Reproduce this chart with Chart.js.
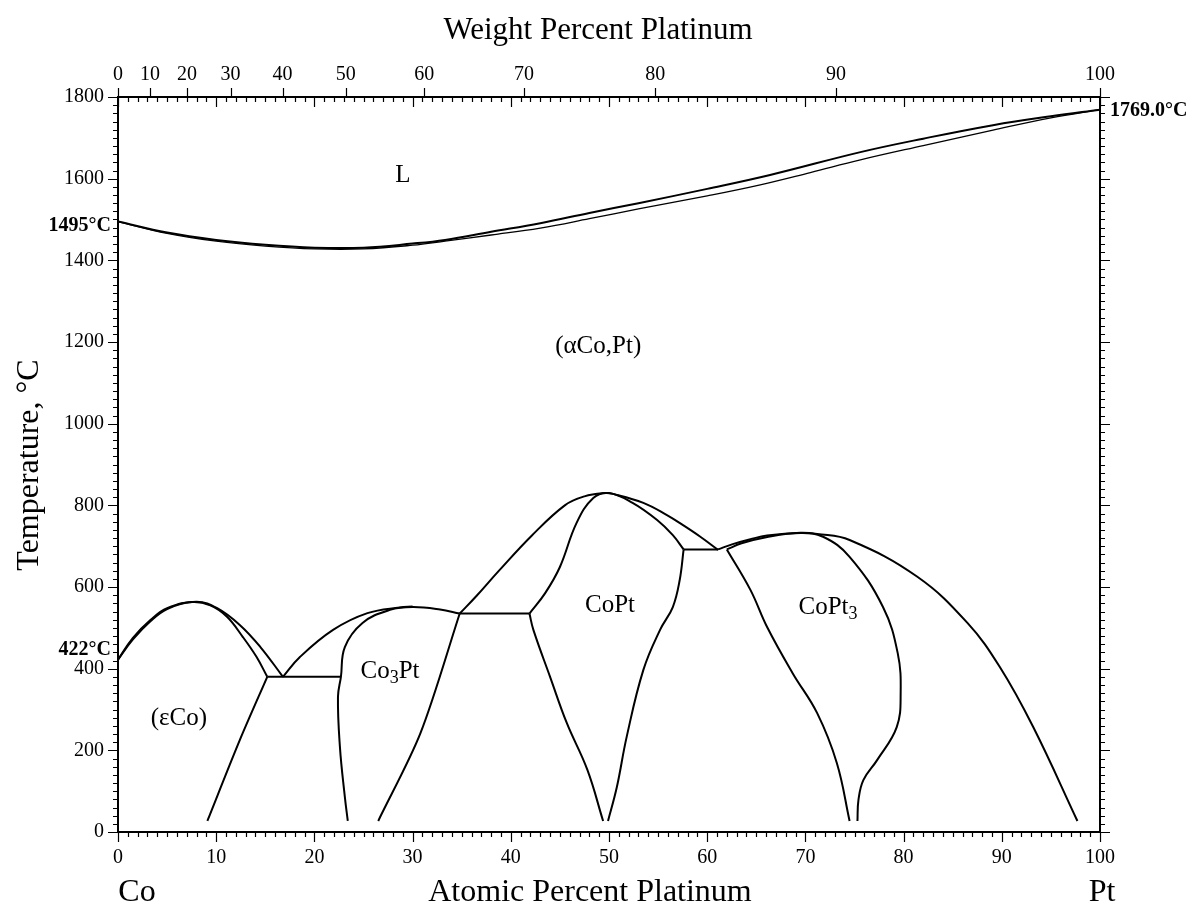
<!DOCTYPE html>
<html>
<head>
<meta charset="utf-8">
<script src="https://cdn.jsdelivr.net/npm/chart.js@4.4.1/dist/chart.umd.min.js"></script>
<style>
  html, body { margin: 0; padding: 0; background: #fff; }
  #wrap { width: 1195px; height: 910px; position: relative; }
</style>
</head>
<body>
<div id="wrap"><canvas id="phaseChart"></canvas></div>
<script>
// Co-Pt phase diagram, x = at.% Pt, y = temperature in degC

// liquidus / solidus
const liqX = [0, 5, 10, 15, 20, 25, 30, 33.3, 38, 43, 48, 53, 60, 66.4, 75.6, 82, 89.1, 95, 100];
const liqT = [1495, 1468, 1450, 1438, 1431, 1431, 1441, 1450, 1470, 1491, 1516, 1540, 1575, 1609, 1665, 1698, 1731, 1753, 1769];
const solX = [0, 5, 10, 15, 20, 25, 30, 33.3, 38, 43, 48, 53, 60, 65.4, 70.5, 75.6, 82, 89.1, 95, 100];
const solT = [1495, 1466, 1447, 1435, 1428, 1428, 1437, 1447, 1462, 1479, 1502, 1526, 1558, 1585, 1615, 1646, 1681, 1719, 1749, 1769];

// (eCo) / (aCo) transition
const epsInX = [0, 1.5, 3.3, 5, 7.5, 9.4, 11.1, 12.7, 14.1, 15.2];
const epsInT = [422, 471, 516, 546, 563, 555, 527, 478, 429, 380];
const epsOutX = [0, 1.5, 3.3, 5, 8, 10.1, 12.4, 14.5, 16.8];
const epsOutT = [422, 475, 519, 548, 564, 548, 507, 453, 380];
const epsSolvX = [15.2, 12.4, 9.1];
const epsSolvT = [380, 225, 27];
const eut380X = [15.2, 22.7];
const eut380T = [380, 380];

// Co3Pt
const co3OutX = [16.8, 18.5, 21.9, 25.4, 28.7, 30];
const co3OutT = [380, 428, 495, 536, 550, 552];
const co3InX = [23.4, 23.1, 22.6, 22.4, 22.7, 23.1, 24.9, 27.7, 30, 32.8, 34.8];
const co3InT = [27, 86, 208, 331, 380, 453, 512, 544, 551, 545, 535];
const co3RightX = [34.8, 30.8, 26.5];
const co3RightT = [535, 242, 27];
const line535X = [34.8, 41.9];
const line535T = [535, 535];

// CoPt
const coptOutX = [34.8, 36.5, 38.8, 42.1, 45.5, 47.5, 49.6, 50.4, 53.5, 55.9, 57.5, 59.3, 61.1];
const coptOutT = [535, 578, 640, 725, 800, 822, 830, 828, 806, 776, 752, 723, 691];
const coptInX = [41.9, 43.5, 45.0, 46.7, 48.4, 50.0, 52.4, 54.9, 56.5, 57.6];
const coptInT = [535, 585, 649, 757, 818, 830, 806, 764, 727, 692];
const coptLeftX = [41.9, 42.3, 44.0, 45.7, 47.8, 49.4];
const coptLeftT = [535, 495, 380, 267, 152, 27];
const coptRightX = [57.6, 57.2, 56.5, 55.2, 53.5, 51.8, 50.8, 49.9];
const coptRightT = [692, 617, 551, 495, 397, 233, 110, 27];
const line692X = [57.6, 61.1];
const line692T = [692, 692];

// CoPt3
const copt3OutX = [61.1, 62.6, 64.4, 66.1, 69.5, 71.2, 74.5, 81.4, 86.5, 89.8, 93.2, 97.7];
const copt3OutT = [692, 705, 717, 726, 733, 730, 715, 625, 512, 404, 257, 27];
const copt3InX = [62.0, 63.5, 66.0, 69.5, 71.8, 74.5, 77.9, 79.4, 79.7, 79.3, 77.3, 75.9, 75.4, 75.3];
const copt3InT = [692, 707, 722, 732, 723, 674, 551, 438, 340, 257, 176, 127, 78, 27];
const copt3LeftX = [62.0, 64.4, 66.1, 68.7, 71.2, 73.2, 74.5];
const copt3LeftT = [692, 593, 502, 389, 291, 169, 27];

// axis ticks
const weightTicks = [0, 10, 20, 30, 40, 50, 60, 70, 80, 90, 100];

// region labels
const regionNames = ['L', '(\u03b1Co,Pt)', '(\u03b5Co)', 'Co_3Pt', 'CoPt', 'CoPt_3'];
const regionX = [29.0, 48.9, 6.2, 27.7, 50.1, 72.3];
const regionT = [1609, 1188, 279, 394, 556, 551];

const M_PT = 195.08, M_CO = 58.933;
const wtToAt = w => {
  if (w <= 0) return 0;
  if (w >= 100) return 100;
  const a = w / M_PT, b = (100 - w) / M_CO;
  return 100 * a / (a + b);
};

const SERIF = '"Liberation Serif", "Times New Roman", serif';
Chart.defaults.font.family = SERIF;
Chart.defaults.color = '#000';

const curve = (xs, ts, width, tension) => ({
  data: xs.map((x, i) => ({ x: x, y: ts[i] })),
  showLine: true,
  borderColor: '#000',
  borderWidth: width,
  pointRadius: 0,
  tension: tension,
  fill: false,
});

// draw text with "_" marking a subscript char
function drawChem(ctx, label, cx, cy, size) {
  const parts = [];
  for (let i = 0; i < label.length; i++) {
    if (label[i] === '_') { parts.push({ t: label[i + 1], sub: true }); i++; }
    else if (parts.length && !parts[parts.length - 1].sub) parts[parts.length - 1].t += label[i];
    else parts.push({ t: label[i], sub: false });
  }
  const subSize = Math.round(size * 0.72);
  let total = 0;
  parts.forEach(p => {
    ctx.font = (p.sub ? subSize : size) + 'px ' + SERIF;
    p.w = ctx.measureText(p.t).width;
    total += p.w;
  });
  let x = cx - total / 2;
  ctx.textAlign = 'left';
  ctx.textBaseline = 'middle';
  parts.forEach(p => {
    ctx.font = (p.sub ? subSize : size) + 'px ' + SERIF;
    ctx.fillText(p.t, x, p.sub ? cy + size * 0.3 : cy);
    x += p.w;
  });
}

const frameAndText = {
  id: 'frameAndText',
  afterDraw(chart) {
    const { ctx, chartArea: a, scales } = chart;
    const sx = scales.x, sy = scales.y, st = scales.xTop;
    ctx.save();
    ctx.strokeStyle = '#000';
    ctx.lineWidth = 1.2;
    ctx.beginPath();
    sx.ticks.forEach(t => {
      const px = Math.round(sx.getPixelForValue(t.value)) + 0.5;
      const len = t.value % 10 === 0 ? 10 : 5;
      ctx.moveTo(px, a.bottom); ctx.lineTo(px, a.bottom + len);
      ctx.moveTo(px, a.top); ctx.lineTo(px, a.top + len);
    });
    st.ticks.forEach(t => {
      const px = Math.round(st.getPixelForValue(t.value)) + 0.5;
      ctx.moveTo(px, a.top); ctx.lineTo(px, a.top - 9);
    });
    sy.ticks.forEach(t => {
      const py = Math.round(sy.getPixelForValue(t.value)) + 0.5;
      const len = t.value % 200 === 0 ? 10 : 5;
      ctx.moveTo(a.left, py); ctx.lineTo(a.left - len, py);
      ctx.moveTo(a.right, py); ctx.lineTo(a.right + len, py);
    });
    ctx.stroke();

    ctx.fillStyle = '#000';
    // axis titles
    ctx.textAlign = 'center';
    ctx.textBaseline = 'middle';
    ctx.font = '31px ' + SERIF;
    ctx.fillText('Weight Percent Platinum', 598, 31);
    ctx.font = '32px ' + SERIF;
    ctx.fillText('Atomic Percent Platinum', 590, 893);
    ctx.fillText('Co', 137, 893);
    ctx.fillText('Pt', 1102, 893);
    ctx.save();
    ctx.translate(30, 465);
    ctx.rotate(-Math.PI / 2);
    ctx.font = '32px ' + SERIF;
    ctx.fillText('Temperature, \u00b0C', 0, 0);
    ctx.restore();

    // melting / transition points
    ctx.font = 'bold 20px ' + SERIF;
    ctx.textAlign = 'right';
    ctx.fillText('1495\u00b0C', 111, sy.getPixelForValue(1495) + 4);
    ctx.fillText('422\u00b0C', 111, sy.getPixelForValue(422) - 10);
    ctx.textAlign = 'left';
    ctx.fillText('1769.0\u00b0C', 1110, sy.getPixelForValue(1769) + 1);

    // phase field labels
    regionNames.forEach((n, i) => {
      drawChem(ctx, n, sx.getPixelForValue(regionX[i]), sy.getPixelForValue(regionT[i]), 25);
    });
    ctx.restore();
  }
};

const tickFont = { size: 20, family: SERIF };

new Chart(document.getElementById('phaseChart'), {
  type: 'scatter',
  data: {
    datasets: [
      curve(liqX, liqT, 2, 0.4),
      curve(solX, solT, 1.3, 0.4),
      curve(epsInX, epsInT, 2, 0.4),
      curve(epsOutX, epsOutT, 2, 0.4),
      curve(epsSolvX, epsSolvT, 2, 0.3),
      curve(eut380X, eut380T, 2, 0),
      curve(co3OutX, co3OutT, 2, 0.4),
      curve(co3InX, co3InT, 2, 0.4),
      curve(co3RightX, co3RightT, 2, 0.3),
      curve(line535X, line535T, 2, 0),
      curve(coptOutX, coptOutT, 2, 0.4),
      curve(coptInX, coptInT, 2, 0.4),
      curve(coptLeftX, coptLeftT, 2, 0.4),
      curve(coptRightX, coptRightT, 2, 0.4),
      curve(line692X, line692T, 2, 0),
      curve(copt3OutX, copt3OutT, 2, 0.4),
      curve(copt3InX, copt3InT, 2, 0.4),
      curve(copt3LeftX, copt3LeftT, 2, 0.4),
    ],
  },
  options: {
    responsive: true,
    maintainAspectRatio: false,
    animation: false,
    events: [],
    layout: { padding: 0 },
    plugins: { legend: { display: false }, tooltip: { enabled: false } },
    scales: {
      x: {
        type: 'linear', position: 'bottom', min: 0, max: 100,
        ticks: { stepSize: 1, autoSkip: false, maxRotation: 0, padding: 14, font: tickFont, color: '#000',
          callback: v => (v % 10 === 0 ? v : '') },
        grid: { drawOnChartArea: false, drawTicks: false },
        border: { display: true, color: '#000', width: 2 },
        afterFit: s => { s.height = 78; },
      },
      xTop: {
        type: 'linear', position: 'top', min: 0, max: 100,
        afterBuildTicks: s => { s.ticks = weightTicks.map(w => ({ value: wtToAt(w) })); },
        ticks: { autoSkip: false, maxRotation: 0, padding: 10, font: tickFont, color: '#000',
          callback: (v, i) => weightTicks[i] },
        grid: { drawOnChartArea: false, drawTicks: false },
        border: { display: true, color: '#000', width: 2 },
        afterFit: s => { s.height = 97; },
      },
      y: {
        type: 'linear', position: 'left', min: 0, max: 1800,
        ticks: { stepSize: 20, autoSkip: false, padding: 14, font: tickFont, color: '#000',
          callback: v => (v % 200 === 0 ? v : '') },
        grid: { drawOnChartArea: false, drawTicks: false },
        border: { display: true, color: '#000', width: 2 },
        afterFit: s => { s.width = 118; },
      },
      yRight: {
        type: 'linear', position: 'right', min: 0, max: 1800,
        ticks: { stepSize: 20, autoSkip: false, display: false },
        grid: { drawOnChartArea: false, drawTicks: false },
        border: { display: true, color: '#000', width: 2 },
        afterFit: s => { s.width = 95; },
      },
    },
  },
  plugins: [frameAndText],
});
</script>
</body>
</html>
